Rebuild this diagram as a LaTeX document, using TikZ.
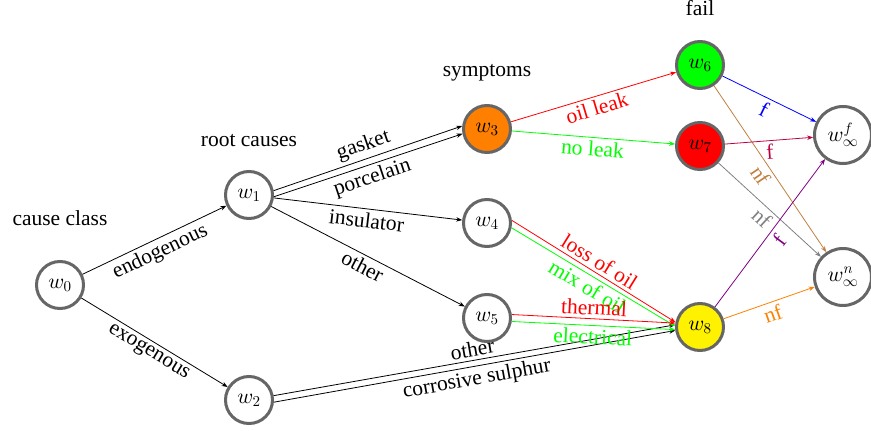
\documentclass[tikz,border=0pt]{standalone}
\usepackage[no-math]{fontspec}
\setmainfont{Liberation Serif}
\DeclareFontShape{OML}{cmm}{m}{it}{<->cmmi10}{}
\DeclareFontShape{OT1}{cmr}{m}{n}{<->cmr10}{}
\DeclareFontShape{OMS}{cmsy}{m}{n}{<->cmsy10}{}
\usetikzlibrary{arrows.meta}
\begin{document}
\begin{tikzpicture}[x=1pt,y=-1pt,
  every node/.style={font=\fontsize{21.5pt}{26pt}\selectfont},
  st/.style={circle, draw=black!60, line width=3pt, minimum size=47pt, inner sep=0pt},
  inf/.style={st, minimum size=57pt},
  e/.style={-{Stealth[length=6pt,width=4.5pt]}, line width=0.8pt},
  ttl/.style={anchor=base}
]
\useasboundingbox (0,0) rectangle (871,431);
% titles
\node[ttl] (t0) at (60,225) {cause class};
\node[ttl] (t1) at (249,146) {root causes};
\node[ttl] (t2) at (487,76) {symptoms};
\node[ttl] (t3) at (700,16) {fail};
% states
\node[st] (w0) at (60,285) {$w_0$};
\node[st] (w1) at (249,195) {$w_1$};
\node[st] (w2) at (249,400) {$w_2$};
\node[st, fill=orange] (w3) at (487,129) {$w_3$};
\node[st] (w4) at (487,223) {$w_4$};
\node[st] (w5) at (487,318) {$w_5$};
\node[st, fill=green] (w6) at (700,65) {$w_6$};
\node[st, fill=red] (w7) at (700,146) {$w_7$};
\node[st, fill=yellow] (w8) at (700,327) {$w_8$};
\node[inf] (wf) at (843,135) {$w_\infty^f$};
\node[inf] (wn) at (843,277) {$w_\infty^n$};
% cause class
\draw[e] (w0) -- node[midway, sloped, below] {endogenous} (w1);
\draw[e] (w0) -- node[midway, sloped, below] {exogenous} (w2);
% root causes
\draw[e] (w1.10) -- node[midway, sloped, above] {gasket} (w3.173);
\draw[e] (w1.-4) -- node[midway, sloped, below] {porcelain} (w3.-169);
\draw[e] (w1) -- node[midway, sloped, below] {insulator} (w4);
\draw[e] (w1) -- node[midway, sloped, below] {other} (w5);
\draw[e] (w2.10) -- node[midway, sloped, above] {other} (w8.175);
\draw[e] (w2.-5) -- node[midway, sloped, below] {corrosive sulphur} (w8.-172);
% symptoms
\draw[e, red] (w3) -- node[midway, sloped, below] {oil leak} (w6);
\draw[e, green] (w3) -- node[midway, sloped, below] {no leak} (w7);
\draw[e, red] (w4.6) -- node[midway, sloped, above] {loss of oil} (w8.169);
\draw[e, green] (w4.-11) -- node[midway, sloped, below] {mix of oil} (w8.178);
\draw[e, red] (w5.8) -- node[midway, sloped, above] {thermal} (w8.171);
\draw[e, green] (w5.-8) -- node[midway, sloped, below] {electrical} (w8.-174);
% fail
\draw[e, blue] (w6) -- node[midway, sloped, below] {f} (wf);
\draw[e, brown] (w6) -- node[midway, sloped, below] {nf} (wn);
\draw[e, purple] (w7) -- node[midway, sloped, below] {f} (wf);
\draw[e, gray] (w7) -- node[midway, sloped, below] {nf} (wn);
\draw[e, violet] (w8) -- node[midway, sloped, below] {f} (wf);
\draw[e, orange] (w8) -- node[midway, sloped, below] {nf} (wn);
\end{tikzpicture}
\end{document}
